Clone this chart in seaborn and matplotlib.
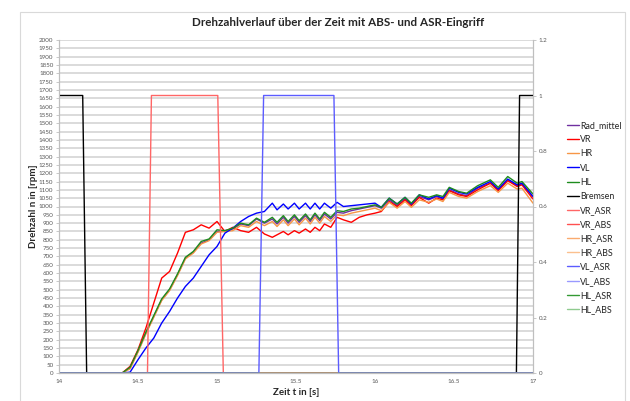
import matplotlib
matplotlib.use("Agg")
import matplotlib.pyplot as plt
import seaborn as sns
from matplotlib.patches import Rectangle

# Zeitachse fuer die Raddrehzahlen [s]
zeit = [14.00, 14.40, 14.45, 14.50, 14.55, 14.60, 14.65, 14.70, 14.75, 14.80,
        14.85, 14.90, 14.95, 15.00, 15.05, 15.10, 15.15, 15.20, 15.25, 15.30,
        15.35, 15.38, 15.42, 15.45, 15.49, 15.52, 15.56, 15.59, 15.62, 15.65,
        15.68, 15.72, 15.76, 15.80, 15.85, 15.90, 15.95, 16.00, 16.04, 16.09,
        16.14, 16.19, 16.23, 16.28, 16.34, 16.39, 16.43, 16.47, 16.53, 16.58,
        16.65, 16.73, 16.78, 16.84, 16.90, 16.93, 17.00]

# Drehzahlen [rpm]
rad_mittel = [0, 0, 30, 130, 240, 340, 440, 500, 590, 690,
              725, 780, 800, 850, 855, 865, 895, 885, 925, 900,
              925, 895, 935, 900, 940, 905, 945, 910, 950, 915,
              955, 925, 965, 960, 975, 985, 995, 1005, 990, 1040,
              1005, 1045, 1010, 1060, 1040, 1060, 1045, 1100, 1075, 1065,
              1110, 1140, 1100, 1160, 1125, 1135, 1060]
vr = [0, 0, 40, 140, 270, 420, 570, 610, 720, 845,
      860, 890, 870, 910, 850, 875, 855, 845, 875, 835,
      815, 830, 850, 830, 855, 840, 865, 845, 875, 855,
      895, 875, 935, 920, 905, 935, 950, 960, 970, 1030,
      1000, 1040, 1005, 1055, 1020, 1050, 1040, 1095, 1070, 1060,
      1100, 1140, 1095, 1155, 1120, 1130, 1045]
hr = [0, 0, 25, 125, 235, 335, 435, 495, 585, 685,
      720, 775, 795, 845, 850, 855, 885, 875, 910, 885,
      910, 880, 920, 885, 925, 890, 930, 895, 935, 900,
      940, 910, 950, 945, 960, 970, 980, 990, 975, 1025,
      990, 1030, 995, 1040, 1025, 1045, 1030, 1085, 1060, 1050,
      1090, 1125, 1085, 1140, 1105, 1110, 1020]
vl = [0, 0, 5, 80, 150, 210, 300, 370, 450, 520,
      570, 640, 710, 760, 840, 870, 910, 940, 960, 970,
      1020, 980, 1015, 985, 1020, 985, 1020, 985, 1020, 985,
      1020, 990, 1025, 1000, 1005, 1010, 1015, 1020, 995, 1050,
      1015, 1055, 1015, 1070, 1045, 1065, 1050, 1110, 1085, 1075,
      1115, 1150, 1105, 1165, 1130, 1140, 1060]
hl = [0, 0, 35, 135, 245, 345, 445, 505, 595, 695,
      730, 790, 805, 860, 855, 870, 900, 890, 930, 905,
      935, 905, 945, 910, 950, 915, 955, 920, 960, 925,
      965, 935, 975, 970, 985, 990, 1000, 1010, 995, 1050,
      1015, 1055, 1020, 1070, 1055, 1070, 1060, 1115, 1090, 1080,
      1125, 1160, 1115, 1180, 1140, 1150, 1075]

# Schaltsignale (0/1) mit eigener Zeitbasis
bremsen_t = [14.00, 14.15, 14.175, 16.895, 16.915, 17.00]
bremsen = [1, 1, 0, 0, 1, 1]
vr_asr_t = [14.00, 14.56, 14.585, 15.005, 15.04, 17.00]
vr_asr = [0, 0, 1, 1, 0, 0]
vl_asr_t = [14.00, 15.265, 15.295, 15.74, 15.77, 17.00]
vl_asr = [0, 0, 1, 1, 0, 0]
aus_t = [14.00, 17.00]
aus = [0, 0]

x_ticks = [14, 14.5, 15, 15.5, 16, 16.5, 17]
x_ticklabels = ['14', '14.5', '15', '15.5', '16', '16.5', '17']
y2_ticks = [0, 0.2, 0.4, 0.6, 0.8, 1.0, 1.2]
y2_ticklabels = ['0', '0.2', '0.4', '0.6', '0.8', '1', '1.2']

sns.set_theme(style="white")
plt.rcParams['font.family'] = ['Lato', 'DejaVu Sans']

fig = plt.figure(figsize=(6.3, 4.01), dpi=100)
ax = fig.add_axes([59 / 630, 1 - 373 / 401, (533 - 59) / 630, (373 - 40) / 401])
ax2 = ax.twinx()

speed_series = [
    ('Rad_mittel', rad_mittel, '#7030A0'),
    ('VR', vr, '#FF0000'),
    ('HR', hr, '#F79646'),
    ('VL', vl, '#0000FF'),
    ('HL', hl, '#1E8C1E'),
]
for name, vals, col in speed_series:
    sns.lineplot(x=zeit, y=vals, ax=ax, color=col, lw=1.0, label=name,
                 estimator=None, sort=False, solid_joinstyle='round')

flag_series = [
    ('Bremsen', bremsen_t, bremsen, '#000000'),
    ('VR_ASR', vr_asr_t, vr_asr, '#FF6666'),
    ('VR_ABS', aus_t, aus, '#FF5050'),
    ('HR_ASR', aus_t, aus, '#FAAA6E'),
    ('HR_ABS', aus_t, aus, '#FBC08E'),
    ('VL_ASR', vl_asr_t, vl_asr, '#5C5CFF'),
    ('VL_ABS', aus_t, aus, '#9999FF'),
    ('HL_ASR', aus_t, aus, '#339933'),
    ('HL_ABS', aus_t, aus, '#8FCB8F'),
]
for name, t, vals, col in flag_series:
    sns.lineplot(x=t, y=vals, ax=ax2, color=col, lw=1.0, label=name,
                 estimator=None, sort=False)

for a in (ax, ax2):
    if a.get_legend() is not None:
        a.get_legend().remove()

ax.set_xlim(14, 17)
ax.set_ylim(0, 2000)
ax.set_yticks(range(0, 2001, 50))
ax.set_xticks(x_ticks)
ax.set_xticklabels(x_ticklabels)
ax.yaxis.grid(True, color='#d4d4d4', lw=1.2)
ax.set_axisbelow(True)
ax2.set_ylim(0, 1.2)
ax2.set_yticks(y2_ticks)
ax2.set_yticklabels(y2_ticklabels)

for a in (ax, ax2):
    a.tick_params(labelsize=4.5, colors='#595959', length=2, width=0.6,
                  color='#bfbfbf', pad=2)
    for s in a.spines.values():
        s.set_color('#bfbfbf')
        s.set_linewidth(0.8)
    a.spines['top'].set_visible(False)

ax.set_xlabel('Zeit t in [s]', fontsize=7, fontweight='bold', labelpad=3)
ax.set_ylabel('Drehzahl n in [rpm]', fontsize=7, fontweight='bold', labelpad=1)
ax2.set_ylabel('')
fig.suptitle('Drehzahlverlauf über der Zeit mit ABS- und ASR-Eingriff',
             x=0.537, y=0.957, fontsize=8.4, fontweight='bold')

handles, labels = [], []
for a in (ax, ax2):
    h, l = a.get_legend_handles_labels()
    handles += h
    labels += l
fig.legend(handles, labels, loc='upper left', bbox_to_anchor=(0.895, 0.707),
           frameon=False, fontsize=6.4, handlelength=1.3, handletextpad=0.1,
           labelspacing=0.58, borderaxespad=0)

fig.patches.append(Rectangle((20 / 630, -0.01), (625 - 20) / 630, 1 - 12 / 401 + 0.01,
                             transform=fig.transFigure, fill=False,
                             edgecolor='#d9d9d9', lw=0.8))

fig.savefig('out.png', dpi=100)
